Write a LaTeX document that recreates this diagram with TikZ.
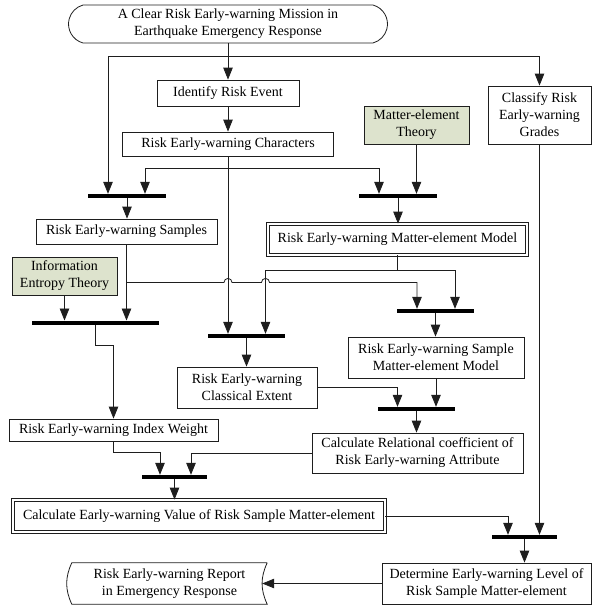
\documentclass[tikz,border=0pt]{standalone}
\usepackage{fontspec}
\setmainfont{Liberation Serif}
\usepackage{tikz}
\usetikzlibrary{positioning,calc,arrows.meta,shapes.misc}
\definecolor{lineclr}{HTML}{1E1E1E}
\definecolor{theoryfill}{HTML}{DDE3CD}

\begin{document}
\begin{tikzpicture}[
  x=1pt, y=-1pt,
  every node/.style={font=\fontsize{14}{17}\selectfont, align=center, inner sep=0pt},
  stepbox/.style={draw=lineclr, line width=0.8pt, rectangle},
  theorybox/.style={stepbox, fill=theoryfill},
  modelbox/.style={draw=lineclr, line width=0.8pt, double, double distance=2.6pt},
  termbox/.style={draw=lineclr, line width=0.8pt, rounded rectangle, rounded rectangle arc length=150},
  bar/.style={fill=black, minimum height=4pt, inner sep=0pt},
  link/.style={draw=lineclr, line width=0.8pt},
  arr/.style={link, -{Triangle[length=12pt,width=9.5pt]}},
]
\useasboundingbox (0,0) rectangle (592,606);

\node[termbox, minimum width=319, minimum height=38] (mission) at (228,24) {A Clear Risk Early-warning Mission in\\Earthquake Emergency Response};
\node[stepbox, minimum width=142, minimum height=26] (ident) at (228,93) {Identify Risk Event};
\node[stepbox, minimum width=211, minimum height=24] (chars) at (228,144) {Risk Early-warning Characters};
\node[theorybox, minimum width=105, minimum height=38] (mtheory) at (416.5,125) {Matter-element\\Theory};
\node[stepbox, minimum width=103, minimum height=58] (classify) at (539.5,115) {Classify Risk\\Early-warning\\Grades};
\node[stepbox, minimum width=181, minimum height=25] (samples) at (126.5,231.5) {Risk Early-warning Samples};
\node[modelbox, minimum width=259, minimum height=31] (mmodel) at (397.5,239.5) {Risk Early-warning Matter-element Model};
\node[theorybox, minimum width=105, minimum height=38] (ientropy) at (64.5,276) {Information\\Entropy Theory};
\node[stepbox, minimum width=176, minimum height=41] (smodel) at (436,357.5) {Risk Early-warning Sample\\Matter-element Model};
\node[stepbox, minimum width=140, minimum height=41] (extent) at (247,387.5) {Risk Early-warning\\Classical Extent};
\node[stepbox, minimum width=209, minimum height=22] (iweight) at (113.5,430) {Risk Early-warning Index Weight};
\node[stepbox, minimum width=211, minimum height=40] (relational) at (417.5,453) {Calculate Relational coefficient of\\Risk Early-warning Attribute};
\node[modelbox, minimum width=372, minimum height=32] (value) at (199,516) {Calculate Early-warning Value of Risk Sample Matter-element};
\node[stepbox, minimum width=209, minimum height=41] (determine) at (486.5,583.5) {Determine Early-warning Level of\\Risk Sample Matter-element};
\node[minimum width=195, minimum height=41] (report) at (169.5,583.5) {Risk Early-warning Report\\in Emergency Response};
\draw[link] (report.north east) -- (report.north west) to[bend right=25] (report.south west)
  -- (report.south east) to[bend left=25] (report.north east);

% synchronisation bars
\foreach \n/\x/\y/\w in {bar1/127/196/78, bar2/398/196/78, bar3/246.5/336/77, bar4/435.5/311/77,
                         bar5/95.5/322.7/127, bar6/416.5/409/77, bar7/174.5/477/65, bar8/524.5/537/65}
  \node[bar, minimum width=\w] (\n) at (\x,\y) {};

% top part
\coordinate (splitA) at ([yshift=-13pt]mission.south);
\draw[arr] (mission.south) -- (ident.north);
\draw[arr] (splitA) -| ([xshift=-19pt]bar1.north);
\draw[arr] (splitA) -| (classify.north);
\draw[arr] (ident.south) -- (chars.north);
\coordinate (splitB) at ([yshift=-12pt]chars.south);
\draw[arr] (splitB) -| ([xshift=18pt]bar1.north);
\draw[arr] (splitB) -| ([xshift=-19pt]bar2.north);
\draw[arr] (chars.south) -- (chars.south |- bar3.north);
\draw[arr] (mtheory.south) -- (mtheory.south |- bar2.north);
\draw[arr] (bar1.south) -- (bar1.south |- samples.north);
\draw[arr] (bar2.south) -- (bar2.south |- mmodel.north);

% middle part
\coordinate (splitD) at ([yshift=-15pt]mmodel.south);
\coordinate (dropD) at ([xshift=19pt]bar3.north);
\draw[link] (mmodel.south) -- (splitD);
\draw[arr] (splitD) -| (dropD);
\draw[arr] (splitD) -| ([xshift=19.5pt]bar4.north);
\coordinate (splitC) at ([yshift=-38pt]samples.south);
\draw[arr] (samples.south) -- (samples.south |- bar5.north);
\draw[arr] (splitC) -- ([xshift=-4pt]chars.south |- splitC) arc[start angle=180, end angle=0, radius=4pt]
  -- ([xshift=-4pt]dropD |- splitC) arc[start angle=180, end angle=0, radius=4pt]
  -- ([xshift=-18.5pt]bar4.north |- splitC) -- ([xshift=-18.5pt]bar4.north);
\draw[arr] (ientropy.south) -- (ientropy.south |- bar5.north);
\draw[arr] (bar5.south) -- ++(0,20) -| (iweight.north);
\draw[arr] (bar3.south) -- (bar3.south |- extent.north);
\draw[arr] (bar4.south) -- (bar4.south |- smodel.north);

% lower part
\draw[arr] (smodel.south) -- (smodel.south |- bar6.north);
\draw[arr] (extent.east) -| ([xshift=-19pt]bar6.north);
\draw[arr] (bar6.south) -- (bar6.south |- relational.north);
\draw[arr] (iweight.south) -- ++(0,11) -| ([xshift=-14.5pt]bar7.north);
\draw[arr] (relational.west) -| ([xshift=16.5pt]bar7.north);
\draw[arr] (bar7.south) -- (bar7.south |- value.north);
\draw[arr] (value.east) -| ([xshift=-16.5pt]bar8.north);
\draw[arr] (classify.south) -- (classify.south |- bar8.north);
\draw[arr] (bar8.south) -- (bar8.south |- determine.north);
\draw[arr] (determine.west) -- ([xshift=-5pt]report.east);
\end{tikzpicture}
\end{document}
